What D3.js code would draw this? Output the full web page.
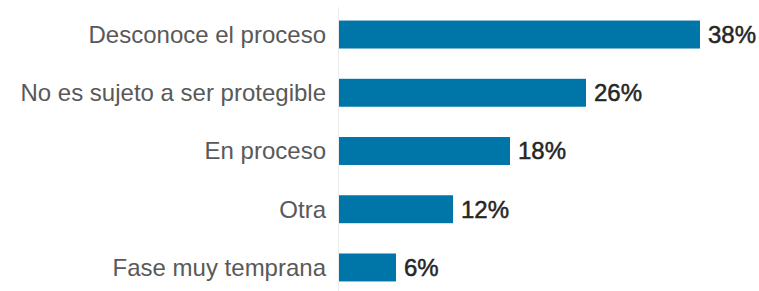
<!DOCTYPE html>
<html>
<head>
<meta charset="utf-8">
<script src="https://cdn.jsdelivr.net/npm/d3@7"></script>
<style>
  body { margin: 0; background: #fff; }
  svg { display: block; font-family: Arial, "Liberation Sans", sans-serif; }
</style>
</head>
<body>
<div class="chart-container"></div>
<script>
const width = 759;
const height = 291;

// Chart data
const categories = ['Desconoce el proceso', 'No es sujeto a ser protegible', 'En proceso', 'Otra', 'Fase muy temprana'];
const values = [38, 26, 18, 12, 6];

const data = categories.map((c, i) => ({category: c, value: values[i]}));

const margin = {left: 339, right: 20, top: 6, bottom: -5};

const svg = d3.select('.chart-container')
  .append('svg')
  .attr('width', width)
  .attr('height', height);

// x: percentage -> pixels, 38% ends at about x=700
const x = d3.scaleLinear()
  .domain([0, 38])
  .range([margin.left, 700]);

const y = d3.scaleBand()
  .domain(categories)
  .range([margin.top, height - margin.bottom])
  .paddingInner(0.52)
  .paddingOuter(0.25);

// faint baseline
svg.append('line')
  .attr('x1', margin.left - 0.5)
  .attr('x2', margin.left - 0.5)
  .attr('y1', 7)
  .attr('y2', height)
  .attr('stroke', '#ececec')
  .attr('stroke-width', 1);

svg.append('g')
  .selectAll('rect')
  .data(data)
  .enter()
  .append('rect')
  .attr('x', x(0))
  .attr('y', d => y(d.category))
  .attr('width', d => x(d.value) - x(0))
  .attr('height', y.bandwidth())
  .attr('fill', '#0075a8');

// category labels
svg.append('g')
  .selectAll('text')
  .data(data)
  .enter()
  .append('text')
  .attr('x', margin.left - 13)
  .attr('y', d => y(d.category) + y.bandwidth() / 2)
  .attr('dy', '0.35em')
  .attr('text-anchor', 'end')
  .attr('font-size', 24)
  .attr('fill', '#595959')
  .text(d => d.category);

// value labels, a bit heavier and darker than the categories
svg.append('g')
  .selectAll('text')
  .data(data)
  .enter()
  .append('text')
  .attr('x', d => x(d.value) + 8)
  .attr('y', d => y(d.category) + y.bandwidth() / 2)
  .attr('dy', '0.35em')
  .attr('font-size', 24)
  .attr('fill', '#262626')
  .attr('stroke', '#262626')
  .attr('stroke-width', 0.5)
  .text(d => d.value + '%');
</script>
</body>
</html>
